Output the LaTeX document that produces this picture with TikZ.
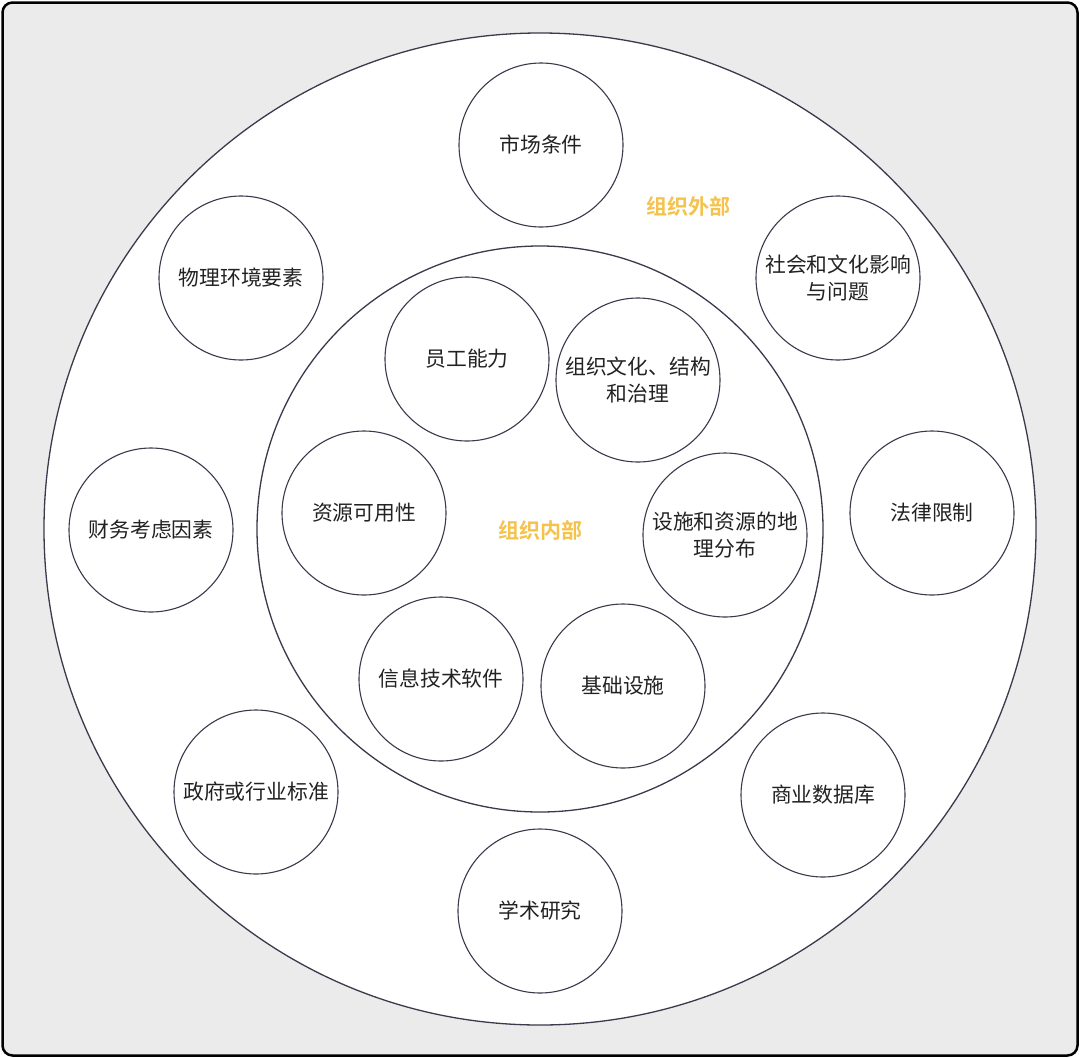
\documentclass[tikz,border=0pt]{standalone}
\usepackage{fontspec}
\newfontfamily\cjk{Noto Sans CJK SC}
\newfontfamily\cjkb{Noto Sans CJK SC Bold}
\definecolor{bgc}{HTML}{EBEBEB}
\definecolor{linec}{HTML}{3A3A4C}
\definecolor{labc}{HTML}{F5C24C}
\definecolor{txtc}{HTML}{222222}
\begin{document}
\begin{tikzpicture}[x=1pt,y=-1pt,
  ring/.style={draw=linec,line width=1.3pt,fill=white},
  item/.style={circle,draw=linec,line width=1.1pt,fill=white,minimum size=164pt,inner sep=0pt,
    align=center,font=\cjk\fontsize{20.8}{27}\selectfont,text=txtc},
  zone/.style={font=\cjkb\fontsize{21}{24}\selectfont,text=labc}]
\useasboundingbox (0,0) rectangle (1080,1058);
\draw[fill=bgc,draw=black,line width=2.5pt,rounded corners=10pt] (2.5,2.5) rectangle (1077.5,1055.5);
\draw[ring] (540,529) circle[radius=496];
\node[item] (m1) at (541,145) {市场条件};
\node[item] (m2) at (241,278) {物理环境要素};
\node[item] (m3) at (838,278) {社会和文化影响\\与问题};
\node[item] (m4) at (151,530) {财务考虑因素};
\node[item] (m5) at (932,513) {法律限制};
\node[item] (m6) at (256,792) {政府或行业标准};
\node[item] (m7) at (823,795) {商业数据库};
\node[item] (m8) at (540,911) {学术研究};
\draw[ring] (540,529) circle[radius=283];
\node[item] (i1) at (467,359) {员工能力};
\node[item] (i2) at (638,380) {组织文化、结构\\和治理};
\node[item] (i3) at (364,513) {资源可用性};
\node[item] (i4) at (725,535) {设施和资源的地\\理分布};
\node[item] (i5) at (441,679) {信息技术软件};
\node[item] (i6) at (623,686) {基础设施};
\node[zone] (outer) at (688,206) {组织外部};
\node[zone] (inner) at (540,530) {组织内部};
\end{tikzpicture}
\end{document}
